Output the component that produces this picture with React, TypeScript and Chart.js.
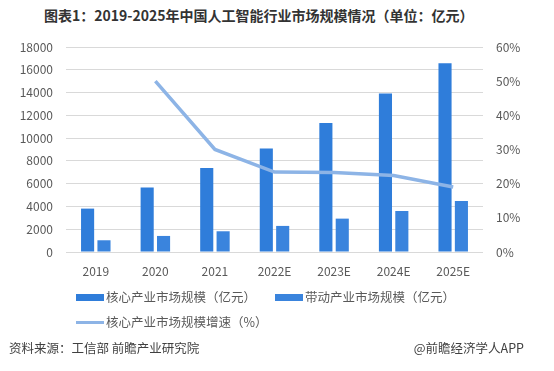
import React, { useEffect, useRef } from "react";
import { Chart, registerables } from "chart.js";

Chart.register(...registerables);

const categories = ["2019", "2020", "2021", "2022E", "2023E", "2024E", "2025E"];
const coreMarket = [3810, 5660, 7380, 9080, 11330, 13910, 16570];
const drivenMarket = [1030, 1410, 1820, 2290, 2930, 3600, 4480];
const coreGrowth = [null, 50.0, 30.0, 23.4, 23.3, 22.4, 19.0];
const leftTicks = [0, 2000, 4000, 6000, 8000, 10000, 12000, 14000, 16000, 18000];
const rightTicks = [0, 10, 20, 30, 40, 50, 60];

const FONT = "'Noto Sans CJK SC', 'Noto Sans', sans-serif";

export default function App() {
  const ref = useRef<HTMLCanvasElement>(null);

  useEffect(() => {
    if (!ref.current) return;
    const chart = new Chart(ref.current, {
      type: "bar",
      data: {
        labels: categories,
        datasets: [
          {
            type: "line",
            label: "核心产业市场规模增速（%）",
            data: coreGrowth as any,
            yAxisID: "y1",
            borderColor: "#8DB4E6",
            backgroundColor: "#8DB4E6",
            borderWidth: 3.5,
            pointRadius: 0,
            tension: 0,
            order: 0,
          } as any,
          {
            label: "核心产业市场规模（亿元）",
            data: coreMarket,
            yAxisID: "y",
            backgroundColor: "#2F7DDA",
            categoryPercentage: 0.55,
            barPercentage: 0.8,
            order: 1,
          },
          {
            label: "带动产业市场规模（亿元）",
            data: drivenMarket,
            yAxisID: "y",
            backgroundColor: "#3A84DD",
            categoryPercentage: 0.55,
            barPercentage: 0.8,
            order: 1,
          },
        ],
      },
      options: {
        animation: false,
        responsive: false,
        maintainAspectRatio: false,
        layout: { padding: { left: 0, right: 0, top: 47, bottom: 89 } },
        plugins: {
          legend: { display: false },
          title: { display: false },
          tooltip: { enabled: false },
        },
        scales: {
          x: {
            grid: { display: false },
            border: { display: false },
            ticks: {
              color: "#595959",
              font: { family: FONT, size: 12 },
              padding: 4,
            },
            afterFit: (s: any) => {
              s.height = 30;
            },
          },
          y: {
            position: "left",
            min: leftTicks[0],
            max: leftTicks[leftTicks.length - 1],
            afterBuildTicks: (s: any) => {
              s.ticks = leftTicks.map((v) => ({ value: v }));
            },
            grid: { color: "#D9D9D9", lineWidth: 1, drawTicks: false },
            border: { display: false },
            ticks: {
              color: "#595959",
              font: { family: FONT, size: 12 },
              padding: 13,
              callback: (v: any) => String(v),
            },
            afterFit: (s: any) => {
              s.width = 66;
            },
          },
          y1: {
            position: "right",
            min: rightTicks[0],
            max: rightTicks[rightTicks.length - 1],
            afterBuildTicks: (s: any) => {
              s.ticks = rightTicks.map((v) => ({ value: v }));
            },
            grid: { display: false, drawTicks: false },
            border: { display: false },
            ticks: {
              color: "#595959",
              font: { family: FONT, size: 12 },
              padding: 13,
              callback: (v: any) => v + "%",
            },
            afterFit: (s: any) => {
              s.width = 71;
            },
          },
        },
      },
    });
    return () => chart.destroy();
  }, []);

  const legendText: React.CSSProperties = {
    fontFamily: FONT,
    fontSize: 12.5,
    color: "#595959",
    whiteSpace: "nowrap",
  };

  return (
    <div
      style={{
        position: "absolute",
        left: 0,
        top: 0,
        width: 554,
        height: 371,
        background: "#fff",
        overflow: "hidden",
      }}
    >
      <div
        style={{
          position: "absolute",
          left: 44,
          top: 5,
          fontFamily: FONT,
          fontSize: 14,
          fontWeight: 700,
          color: "#333",
          whiteSpace: "nowrap",
          lineHeight: "20px",
        }}
      >
        图表1：2019-2025年中国人工智能行业市场规模情况（单位：亿元）
      </div>
      <canvas
        ref={ref}
        width={554}
        height={371}
        style={{ position: "absolute", left: 0, top: 0, width: 554, height: 371 }}
      />
      <div style={{ position: "absolute", left: 76, top: 288, display: "flex", alignItems: "center", lineHeight: "18px" }}>
        <span style={{ display: "inline-block", width: 28, height: 7, background: "#2F7DDA", marginRight: 2 }} />
        <span style={legendText}>核心产业市场规模（亿元）</span>
      </div>
      <div style={{ position: "absolute", left: 275, top: 288, display: "flex", alignItems: "center", lineHeight: "18px" }}>
        <span style={{ display: "inline-block", width: 28, height: 7, background: "#3A84DD", marginRight: 2 }} />
        <span style={legendText}>带动产业市场规模（亿元）</span>
      </div>
      <div style={{ position: "absolute", left: 76, top: 313, display: "flex", alignItems: "center", lineHeight: "18px" }}>
        <span style={{ display: "inline-block", width: 28, height: 3, background: "#8DB4E6", marginRight: 2 }} />
        <span style={legendText}>核心产业市场规模增速（%）</span>
      </div>
      <div
        style={{
          position: "absolute",
          left: 9,
          top: 339,
          fontFamily: FONT,
          fontSize: 12.5,
          color: "#404040",
          whiteSpace: "nowrap",
          lineHeight: "18px",
        }}
      >
        资料来源：工信部 前瞻产业研究院
      </div>
      <div
        style={{
          position: "absolute",
          right: 30,
          top: 339,
          fontFamily: FONT,
          fontSize: 12.5,
          color: "#404040",
          whiteSpace: "nowrap",
          lineHeight: "18px",
        }}
      >
        @前瞻经济学人APP
      </div>
    </div>
  );
}
